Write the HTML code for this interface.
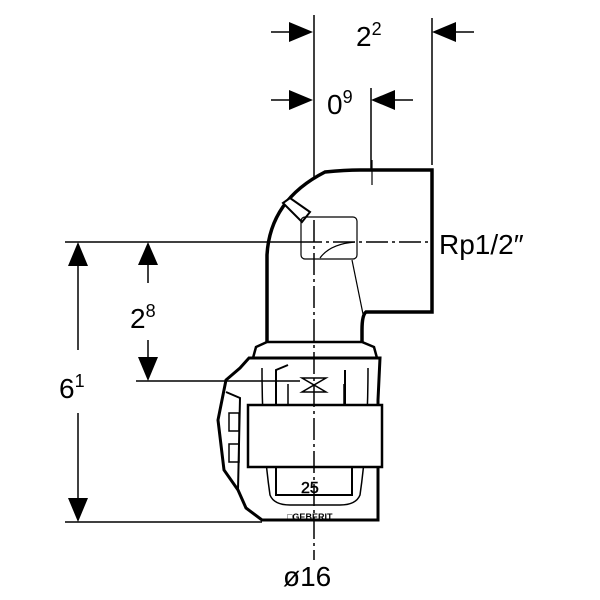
<!DOCTYPE html>
<html><head><style>body{margin:0;background:#fff}svg{display:block}text{font-family:"Liberation Sans",sans-serif;fill:#000}</style></head>
<body>
<svg width="600" height="600" viewBox="0 0 600 600" xmlns="http://www.w3.org/2000/svg">
<g stroke="#000" stroke-width="1.5" fill="none">
<line x1="314" y1="15" x2="314" y2="220"/>
<line x1="432" y1="18" x2="432" y2="165"/>
<line x1="371" y1="88" x2="371" y2="185"/>
<line x1="271" y1="32" x2="290" y2="32"/>
<line x1="456" y1="32" x2="474" y2="32"/>
<line x1="271" y1="100" x2="290" y2="100"/>
<line x1="395" y1="100" x2="413" y2="100"/>
<line x1="78" y1="266" x2="78" y2="350"/>
<line x1="78" y1="413" x2="78" y2="498"/>
<line x1="148" y1="265" x2="148" y2="283"/>
<line x1="148" y1="340" x2="148" y2="357"/>
</g>
<g fill="#000">
<polygon points="313,32 289,22 289,42"/>
<polygon points="432,32 456,22 456,42"/>
<polygon points="313,100 289,90 289,110"/>
<polygon points="371,100 395,90 395,110"/>
<polygon points="78,242 68,266 88,266"/>
<polygon points="78,522 68,498 88,498"/>
<polygon points="148,242 138,265 158,265"/>
<polygon points="148,381 138,357 158,357"/>
</g>
<g stroke="#000" fill="none">
<path d="M267,342 L267,255 Q270,200 325,172 Q345,170 360,170 L432,170 L432,312 L366,312 Q362,315 362,330 L362,342" stroke-width="3.5" fill="#fff"/>
<path d="M283,203 L290,198 L310,212 L302,222 Z" stroke-width="2" fill="#fff"/>
<rect x="301" y="217" width="56" height="42" rx="4" stroke-width="1.2"/>
<path d="M320,258 Q330,244 355,242" stroke-width="1.2"/>
<line x1="352" y1="260" x2="363" y2="314" stroke-width="1.2"/>
<line x1="372" y1="160" x2="372" y2="185" stroke-width="1.2"/>
<path d="M253,358 L256,347 L267,342 L362,342 L374,347 L377,358 L252,358" stroke-width="2.5" fill="#fff"/>
<path d="M249,358 L380,358 L378,400 L378,520 L262,520 L246,508 L238,490 L224,470 L218,420 L226,380 L240,368 Z" stroke-width="3" fill="#fff"/>
<path d="M262,368 Q262,440 270,495 Q274,505 290,505 L340,505 Q356,505 360,495 Q368,440 368,368" stroke-width="1.5"/>
<rect x="248" y="405" width="134" height="62" stroke-width="2.5" fill="#fff"/>
<path d="M226,392 L240,398 L238,490" stroke-width="2"/>
<rect x="229" y="413" width="10" height="18" stroke-width="1.5"/>
<rect x="229" y="444" width="10" height="18" stroke-width="1.5"/>
<path d="M276,405 L276,370 L288,365 M345,370 L345,405 M276,467 L276,495 L352,495 L352,467" stroke-width="2"/>
<path d="M288,384 L288,405 M344,384 L344,405" stroke-width="1.5"/>
<path d="M302,378 L326,378 L302,392 L326,392 Z" stroke-width="1.5"/>
</g>
<text x="301" y="493" font-size="16" stroke="#000" stroke-width="0.5" fill="#fff">25</text>
<text x="287" y="520" font-size="9" font-weight="bold">□GEBERIT</text>
<g stroke="#000" stroke-width="1.5" fill="none">
<line x1="65" y1="242" x2="300" y2="242"/>
<line x1="300" y1="242" x2="432" y2="242" stroke-dasharray="22,4,3,4"/>
<line x1="136" y1="381" x2="300" y2="381"/>
<line x1="65" y1="522" x2="262" y2="522"/>
<line x1="314" y1="220" x2="314" y2="560" stroke-dasharray="22,4,3,4"/>
</g>
<text x="356" y="46" font-size="28">2<tspan dy="-11" font-size="18">2</tspan></text>
<text x="327" y="114" font-size="28">0<tspan dy="-11" font-size="18">9</tspan></text>
<text x="439" y="254" font-size="28">Rp1/2″</text>
<text x="130" y="328" font-size="28">2<tspan dy="-11" font-size="18">8</tspan></text>
<text x="59" y="398" font-size="28">6<tspan dy="-11" font-size="18">1</tspan></text>
<text x="283" y="586" font-size="28">ø16</text>
</svg>
</body></html>
